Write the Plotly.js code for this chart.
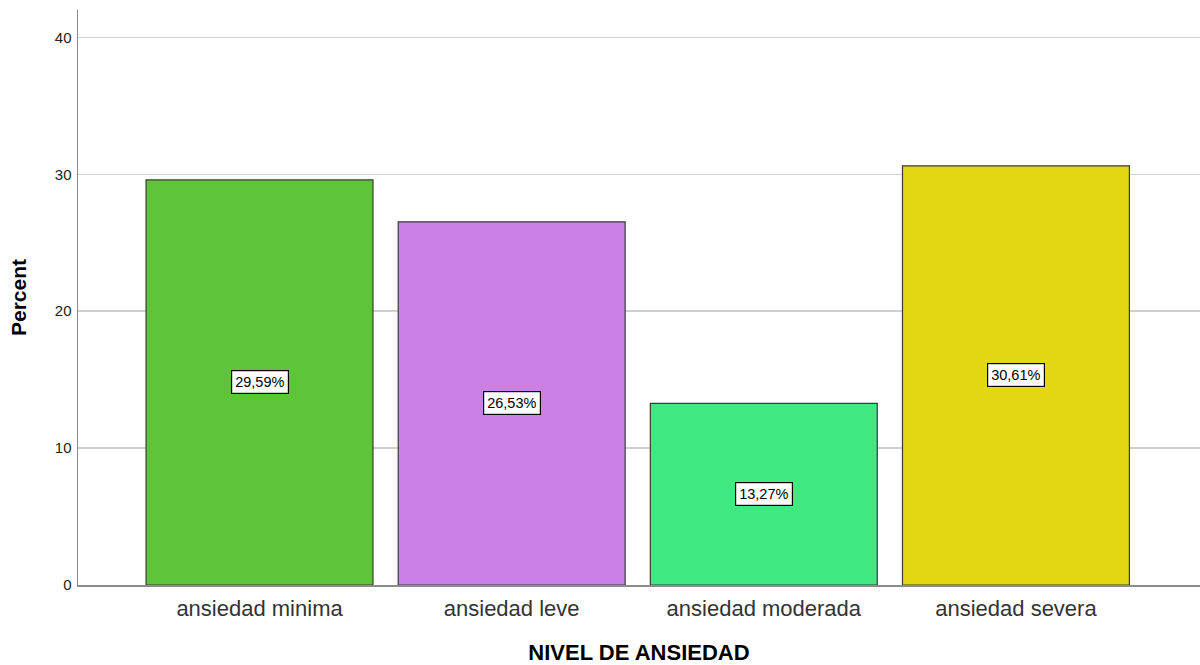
<!DOCTYPE html>
<html>
<head>
<meta charset="utf-8">
<script src="https://cdn.plot.ly/plotly-3.0.1.min.js"></script>
<style>html,body{margin:0;padding:0;background:#fff;}#chart{width:1200px;height:665px;}</style>
</head>
<body>
<div id="chart"></div>
<script>
const categories = ["ansiedad minima", "ansiedad leve", "ansiedad moderada", "ansiedad severa"];
const percents = [29.59, 26.53, 13.27, 30.61];
const labels = ["29,59%", "26,53%", "13,27%", "30,61%"];
const colors = ["#5ec43a", "#cb80e6", "#40e880", "#e2d712"];

const trace = {
  type: "bar",
  x: categories,
  y: percents,
  marker: {color: colors, line: {color: "#3a3a3a", width: 1.2}},
  width: 0.9,
  hoverinfo: "skip"
};

const annotations = categories.map((c, i) => ({
  x: c, y: percents[i] / 2, xref: "x", yref: "y",
  text: labels[i], showarrow: false,
  font: {family: "Liberation Sans, Arial, sans-serif", size: 14.5, color: "#000"},
  bgcolor: "#ffffff", bordercolor: "#000000", borderwidth: 1.2, borderpad: 3
}));

const layout = {
  width: 1200, height: 665,
  margin: {l: 78, r: 0, t: 10, b: 80},
  paper_bgcolor: "#ffffff", plot_bgcolor: "#ffffff",
  showlegend: false,
  font: {family: "Liberation Sans, Arial, sans-serif", color: "#222"},
  xaxis: {
    type: "category",
    range: [-0.72, 3.73],
    showline: true, linecolor: "#8c8c8c", linewidth: 1.5,
    showgrid: false, ticks: "",
    ticklabelstandoff: 3,
    tickfont: {size: 22, color: "#333"},
    title: {text: "NIVEL DE ANSIEDAD", font: {size: 22, color: "#000", weight: "bold"}, standoff: 28}
  },
  yaxis: {
    range: [0, 42],
    tickvals: [0, 10, 20, 30, 40],
    showline: true, linecolor: "#8c8c8c", linewidth: 1.5,
    showgrid: true, gridcolor: "#cfcfcf", gridwidth: 1.5,
    zeroline: false, ticks: "",
    ticklabelstandoff: 2,
    tickfont: {size: 15, color: "#222"},
    title: {text: "Percent", font: {size: 21, color: "#000", weight: "bold"}, standoff: 22}
  },
  annotations: annotations
};

Plotly.newPlot("chart", [trace], layout, {displayModeBar: false, staticPlot: true});
</script>
</body>
</html>
